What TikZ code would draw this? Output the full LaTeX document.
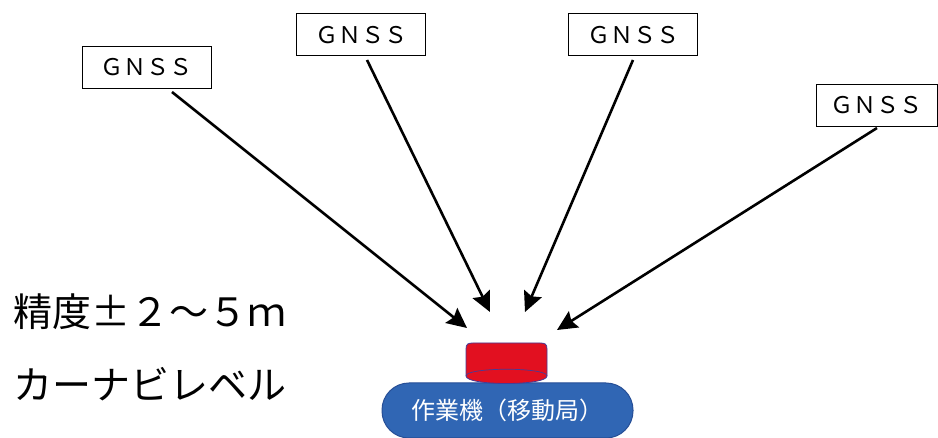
\documentclass[tikz,border=0pt]{standalone}
\usepackage{fontspec}
\setmainfont{Noto Sans CJK JP}
\usetikzlibrary{arrows.meta}
\definecolor{pillblue}{RGB}{48,102,180}
\definecolor{pilledge}{RGB}{38,78,150}
\definecolor{cylred}{RGB}{226,16,32}
\definecolor{cyledge}{RGB}{70,60,150}
\tikzset{
  gnssbox/.style={draw=black, line width=1pt, minimum width=129pt, minimum height=42pt, inner sep=0pt, font=\fontsize{23}{23}\selectfont},
  sigarrow/.style={line width=2.6pt, -{Stealth[length=20pt,width=19pt,inset=3pt]}},
  bigtext/.style={anchor=west, inner sep=0pt, font=\fontsize{39}{39}\selectfont},
  pill/.style={draw=pilledge, line width=1pt, fill=pillblue, rounded corners=27pt, minimum width=251pt, minimum height=55pt, inner sep=0pt, text=white, font=\fontsize{24}{24}\selectfont},
  cyl/.style={draw=cyledge, line width=0.8pt, fill=cylred}
}
\begin{document}
\begin{tikzpicture}[x=1pt,y=-1pt]
\useasboundingbox (0,0) rectangle (938,438);
\fill[white] (0,0) rectangle (938,438);
% GNSS boxes
\node[gnssbox] (g1) at (146.5,67.5) {ＧＮＳＳ};
\node[gnssbox] (g2) at (361,35) {ＧＮＳＳ};
\node[gnssbox] (g3) at (633,35) {ＧＮＳＳ};
\node[gnssbox, minimum width=121pt] (g4) at (876.5,105.5) {ＧＮＳＳ};
% arrow ends
\coordinate (s1) at (172,92);
\coordinate (s2) at (367,60);
\coordinate (s3) at (633,60);
\coordinate (s4) at (877,128);
\coordinate (t1) at (467,328);
\coordinate (t2) at (490,312);
\coordinate (t3) at (525,312);
\coordinate (t4) at (557,330);
\draw[sigarrow] (s1) -- (t1);
\draw[sigarrow] (s2) -- (t2);
\draw[sigarrow] (s3) -- (t3);
\draw[sigarrow] (s4) -- (t4);
% vehicle
\node[pill] (veh) at (507.5,410.5) {作業機（移動局）};
\draw[cyl] (466,349) .. controls (466,344) and (468,343) .. (473,343) -- (540,343) .. controls (545,343) and (547,344) .. (547,349) -- (547,376) .. controls (547,386) and (466,386) .. (466,376) -- cycle;
\draw[cyledge, line width=0.7pt] (466,376) .. controls (466,367) and (547,367) .. (547,376);
% left texts
\node[bigtext] (acc) at (13,312) {精度±２～５ｍ};
\node[bigtext] (lvl) at (13,384) {カーナビレベル};
\end{tikzpicture}
\end{document}
